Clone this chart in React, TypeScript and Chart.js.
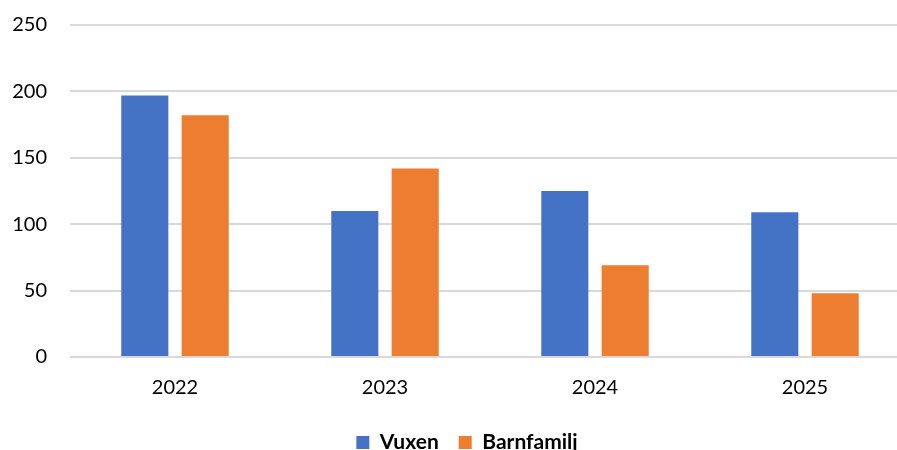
import React, { useEffect, useRef } from "react";
import { Chart, registerables } from "chart.js";

Chart.register(...registerables);

const categories = ["2022", "2023", "2024", "2025"];
const vuxen = [197, 110, 125, 109];
const barnfamilj = [182, 142, 69, 48];
const seriesNames = ["Vuxen", "Barnfamilj"];
const yTicks = [0, 50, 100, 150, 200, 250];

const FONT = "Lato, 'Open Sans', sans-serif";

const legendShift = {
  id: "legendShift",
  afterLayout(chart: any) {
    const lg = chart.legend;
    if (lg) {
      lg.left += 12;
      lg.right += 12;
    }
  },
};

export default function App() {
  const ref = useRef<HTMLCanvasElement | null>(null);
  useEffect(() => {
    document.body.style.margin = "0";
    const ctx = ref.current!;
    const chart = new Chart(ctx, {
      type: "bar",
      data: {
        labels: categories,
        datasets: [
          {
            label: seriesNames[0],
            data: vuxen,
            backgroundColor: "#4472C4",
            barPercentage: 0.78,
            categoryPercentage: 0.575,
          },
          {
            label: seriesNames[1],
            data: barnfamilj,
            backgroundColor: "#ED7D31",
            barPercentage: 0.78,
            categoryPercentage: 0.575,
          },
        ],
      },
      plugins: [legendShift],
      options: {
        animation: false,
        responsive: false,
        maintainAspectRatio: false,
        layout: { padding: { top: 25, right: 30, bottom: -13, left: 0 } },
        plugins: {
          tooltip: { enabled: false },
          legend: {
            position: "bottom",
            labels: {
              boxWidth: 13,
              boxHeight: 13,
              padding: 20,
              color: "#000",
              font: { family: FONT, size: 21, weight: "bold" },
            },
          },
        },
        scales: {
          x: {
            grid: { display: false, drawTicks: false },
            border: { display: false },
            afterFit: (scale: any) => {
              scale.height = 55;
            },
            ticks: {
              color: "#000",
              padding: 19,
              font: { family: FONT, size: 20 },
            },
          },
          y: {
            min: 0,
            max: 250,
            afterBuildTicks: (scale: any) => {
              scale.ticks = yTicks.map((v) => ({ value: v }));
            },
            afterFit: (scale: any) => {
              scale.width = 70;
              scale.paddingTop = 0;
              scale.paddingBottom = 0;
            },
            grid: { color: "#d9d9d9", lineWidth: 2, drawTicks: false },
            border: { display: false },
            ticks: {
              color: "#000",
              padding: 23,
              font: { family: FONT, size: 20 },
            },
          },
        },
      },
    });
    return () => chart.destroy();
  }, []);
  return (
    <div style={{ width: 897, height: 450, overflow: "hidden" }}>
      <canvas ref={ref} width={940} height={450} style={{ width: 940, height: 450 }} />
    </div>
  );
}
